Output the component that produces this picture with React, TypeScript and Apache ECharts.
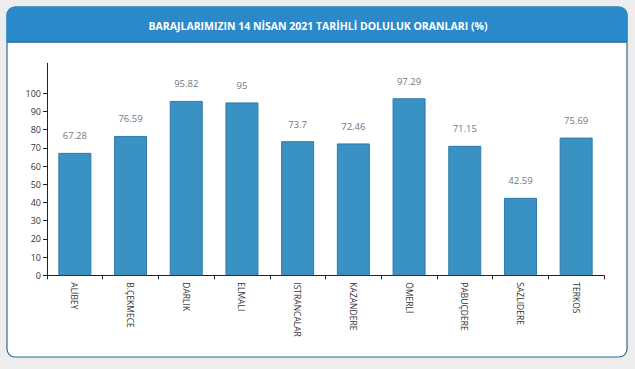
import React, { useEffect, useRef } from "react";
import * as echarts from "echarts";

const categories = ["ALİBEY", "B.ÇEKMECE", "DARLIK", "ELMALI", "ISTRANCALAR", "KAZANDERE", "ÖMERLİ", "PABUÇDERE", "SAZLIDERE", "TERKOS"];
const values = [67.28, 76.59, 95.82, 95, 73.7, 72.46, 97.29, 71.15, 42.59, 75.69];
const yTicks = [0, 10, 20, 30, 40, 50, 60, 70, 80, 90, 100];
const title = "BARAJLARIMIZIN 14 NİSAN 2021 TARİHLİ DOLULUK ORANLARI (%)";

export default function App() {
  const ref = useRef<HTMLDivElement>(null);
  useEffect(() => {
    const chart = echarts.init(ref.current!, null, { renderer: "svg" });
    chart.setOption({
      animation: false,
      backgroundColor: "#ededed",
      graphic: [
        { type: "rect", shape: { x: 7, y: 7, width: 620, height: 350, r: 8 }, style: { fill: "#ffffff", stroke: "#2c6a93", lineWidth: 1.2 }, z: -10 },
        { type: "rect", shape: { x: 7, y: 7, width: 620, height: 35, r: [8, 8, 0, 0] }, style: { fill: "#2a89cb", stroke: "#2a89cb" }, z: -9 },
        { type: "line", shape: { x1: 7, y1: 42, x2: 627, y2: 42 }, style: { stroke: "#1f5f8c", lineWidth: 1 }, z: -8 },
        { type: "text", x: 318, y: 26, style: { text: title, fill: "#ffffff", font: "bold 10.5px 'Open Sans', sans-serif", textAlign: "center", textVerticalAlign: "middle" }, z: 5 },
      ],
      grid: { left: 47, right: 31, top: 63.3, bottom: 93.7, containLabel: false },
      xAxis: {
        type: "category",
        data: categories,
        axisLine: { lineStyle: { color: "#222", width: 1 } },
        axisTick: { show: true, length: 4, lineStyle: { color: "#222" }, alignWithLabel: false },
        axisLabel: { rotate: -90, interval: 0, fontSize: 8.5, color: "#333", margin: 7, fontFamily: "'Open Sans', sans-serif" },
      },
      yAxis: {
        type: "value",
        min: 0,
        max: 116.5,
        interval: 10,
        splitLine: { show: false },
        axisLine: { show: true, lineStyle: { color: "#222", width: 1 } },
        axisTick: { show: true, length: 4, lineStyle: { color: "#222" }, customValues: yTicks },
        axisLabel: { fontSize: 9, color: "#333", margin: 6, customValues: yTicks, fontFamily: "'Open Sans', sans-serif" },
      },
      series: [
        {
          type: "bar",
          data: values,
          barWidth: 33,
          itemStyle: { color: "#3a91c3", borderColor: "#2f7aa6", borderWidth: 1 },
          label: { show: true, position: "top", distance: 12, fontSize: 9.5, color: "#6b7a88", fontFamily: "'Open Sans', sans-serif" },
        },
      ],
    });
    return () => chart.dispose();
  }, []);
  return <div ref={ref} style={{ position: "fixed", left: 0, top: 0, width: 635, height: 369 }} />;
}
